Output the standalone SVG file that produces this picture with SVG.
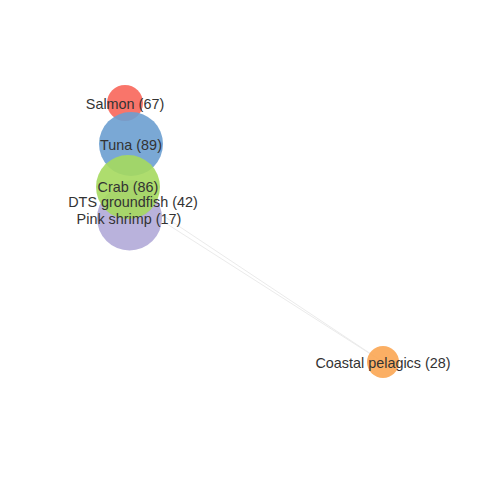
<svg xmlns="http://www.w3.org/2000/svg" width="480" height="480" viewBox="0 0 480 480">
<style>
.lbl{font-family:"Liberation Sans",Arial,sans-serif;font-size:14.4px;fill:#333;text-anchor:middle;dominant-baseline:central}
.edge{stroke:#ebebeb;stroke-width:1;fill:none}
circle{opacity:0.9}
</style>
<rect width="480" height="480" fill="#fff"/>
<g id="connectors">
<line class="edge" x1="129" y1="193" x2="383" y2="362"/>
<line class="edge" x1="131" y1="201" x2="383" y2="362"/>
</g>
<g id="node-dts"><circle cx="133" cy="200" r="20" fill="#b1aad8"/></g>
<g id="node-salmon"><circle cx="125" cy="103" r="18" fill="#f8665a"/></g>
<g id="node-pinkshrimp"><circle cx="129.5" cy="218" r="32.5" fill="#b1aad8"/></g>
<g id="node-tuna"><circle cx="131" cy="144" r="32" fill="#6b9fd0"/></g>
<g id="node-crab"><circle cx="128" cy="187" r="32" fill="#a5d95e"/></g>
<g id="node-coastal"><circle cx="383" cy="362" r="16" fill="#fba653"/></g>
<g id="labels">
<text class="lbl" x="125" y="104">Salmon (67)</text>
<text class="lbl" x="131" y="145">Tuna (89)</text>
<text class="lbl" x="128" y="187">Crab (86)</text>
<text class="lbl" x="133" y="202">DTS groundfish (42)</text>
<text class="lbl" x="129" y="219">Pink shrimp (17)</text>
<text class="lbl" x="383" y="363">Coastal pelagics (28)</text>
</g>
</svg>
